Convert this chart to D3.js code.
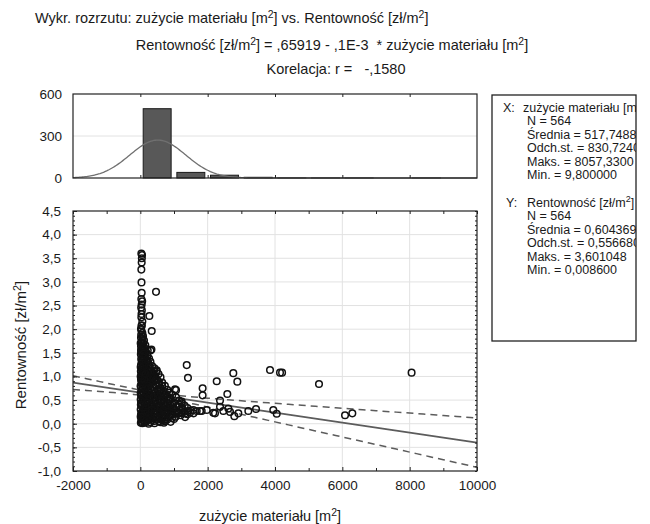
<!DOCTYPE html>
<html>
<head>
<meta charset="utf-8">
<script src="https://cdn.jsdelivr.net/npm/d3@7"></script>
<style>
body { margin: 0; background: #fff; }
svg text { font-family: "Liberation Sans", Arial, sans-serif; fill: #1a1a1a; white-space: pre; }
</style>
</head>
<body>
<div id="chart"></div>
<script>
var d3 = window.d3;

// histogram of zużycie materiału, bins of 1000 m2
var histBinStarts = [0, 1000, 2000, 3000, 4000, 5000, 6000, 7000, 8000];
var histCounts = [495, 40, 20, 5, 1, 1, 1, 0, 1];
var histTicks = [0, 300, 600];

var xTicks = [-2000, 0, 2000, 4000, 6000, 8000, 10000];
var xMinorTicks = [-1000, 1000, 3000, 5000, 7000, 9000];
var yTicks = [-1, -0.5, 0, 0.5, 1, 1.5, 2, 2.5, 3, 3.5, 4, 4.5];

// summary statistics (as printed in the box)
var statsN = 564;
var meanX = 517.7488, sdX = 830.724;
var meanY = 0.604369, sdY = 0.55668;
var corrR = -0.158;

var titleLines = [
	"Wykr. rozrzutu: zużycie materiału [m²] vs. Rentowność [zł/m²]",
	"Rentowność [zł/m²] = ,65919 - ,1E-3  * zużycie materiału [m²]",
	"Korelacja: r =   -,1580"
];
var statHeadX = "zużycie materiału [m²]";
var statLinesX = ["N = 564", "Średnia = 517,7488", "Odch.st. = 830,7240", "Maks. = 8057,3300", "Min. = 9,800000"];
var statHeadY = "Rentowność [zł/m²]";
var statLinesY = ["N = 564", "Średnia = 0,604369", "Odch.st. = 0,556680", "Maks. = 3,601048", "Min. = 0,008600"];

// points: [zużycie materiału, rentowność]
var points = [
	// tall column near zero
	[30,3.60],[50,3.57],[45,3.50],[40,3.41],[30,3.26],[35,2.99],[40,2.77],[30,2.64],[55,2.59],[40,2.52],
	[25,2.46],[45,2.40],[35,2.32],[30,2.25],[60,2.16],[40,2.08],[20,2.01],[466,2.79],[268,2.28],[338,1.96],
	[40,2.07],[30,1.98],[60,1.92],[25,1.88],[80,1.85],
	[20,1.82],[70,1.80],[110,1.76],[35,1.72],[90,1.70],[150,1.66],[20,1.64],[60,1.62],[120,1.60],[330,1.57],
	[300,1.55],[30,1.56],[80,1.53],[170,1.52],[45,1.50],
	[15,1.47],[100,1.46],[210,1.44],[60,1.42],[140,1.40],[260,1.38],[25,1.37],[90,1.35],[180,1.33],[300,1.31],
	[40,1.30],[120,1.29],
	[230,1.28],[70,1.26],[20,1.24],[160,1.23],[350,1.22],[280,1.20],[100,1.19],[420,1.17],[45,1.16],[200,1.15],
	[330,1.13],[140,1.12],[15,1.11],[260,1.10],[480,1.11],[80,1.08],[487,1.13],
	[390,1.07],[180,1.06],[30,1.04],[300,1.03],[540,1.05],[110,1.01],[450,1.00],[230,0.99],[60,0.97],[360,0.96],
	[600,0.98],[150,0.94],[20,0.93],[280,0.92],[500,0.93],[420,0.90],[90,0.90],
	[200,0.88],[650,0.87],[340,0.86],[40,0.85],[560,0.84],[130,0.83],[260,0.82],[470,0.81],[730,0.80],[15,0.79],
	[380,0.78],[190,0.77],[600,0.76],[80,0.75],[300,0.74],[520,0.73],[800,0.72],[140,0.71],[420,0.70],[1030,0.73],
	[680,0.70],
	[30,0.69],[240,0.68],[560,0.67],[860,0.66],[100,0.65],[370,0.64],[720,0.63],[180,0.62],[470,0.61],[950,0.61],
	[20,0.60],[300,0.59],[620,0.58],[800,0.57],[140,0.56],[420,0.55],[1060,0.56],[60,0.54],[250,0.53],[540,0.52],
	[900,0.52],[700,0.50],[350,0.50],[10,0.51],[170,0.50],
	[1150,0.49],[460,0.48],[80,0.47],[620,0.46],[280,0.45],[1000,0.45],[800,0.44],[20,0.44],[190,0.43],[1230,0.43],
	[400,0.42],[560,0.41],[120,0.40],[720,0.40],[900,0.39],[320,0.38],[1320,0.38],[40,0.37],[500,0.36],[1080,0.36],
	[220,0.35],[650,0.34],[830,0.34],[1400,0.33],[100,0.32],[380,0.32],[980,0.31],[560,0.30],[1180,0.30],[10,0.30],
	[270,0.29],[760,0.28],
	[1500,0.28],[150,0.27],[450,0.27],[900,0.26],[1300,0.26],[620,0.25],[50,0.24],[330,0.24],[1080,0.23],[1580,0.22],
	[200,0.22],[780,0.22],[500,0.21],[960,0.20],[1400,0.20],[20,0.19],[280,0.19],[650,0.18],[1200,0.18],[110,0.17],
	[400,0.16],[850,0.16],[560,0.15],[1050,0.15],[230,0.14],[60,0.13],[720,0.13],[350,0.12],[940,0.12],[1330,0.14],
	[160,0.11],[500,0.10],[30,0.10],
	[260,0.09],[640,0.08],[90,0.07],[420,0.06],[180,0.05],[734,0.05],[40,0.04],[300,0.03],[120,0.02],[60,0.01],[15,0.02],
	// second layer in the dense core
	[50,1.18],[130,1.16],[210,1.07],[70,1.02],[170,0.98],[250,0.95],[40,0.89],[110,0.86],[230,0.80],[60,0.78],
	[160,0.74],[90,0.66],[200,0.64],[30,0.62],[140,0.59],[260,0.57],[80,0.55],[200,0.45],[50,0.41],[150,0.36],
	[250,0.33],[80,0.26],[190,0.25],[30,0.22],[130,0.21],[240,0.18],[80,0.15],[200,0.08],[140,0.03],
	// third layer, filling the triangle
	[330,0.70],[450,0.66],[600,0.64],[780,0.62],[520,0.58],[380,0.56],[700,0.55],[850,0.48],[600,0.49],[430,0.46],
	[330,0.43],[700,0.43],[950,0.41],[480,0.40],[620,0.37],[760,0.35],[880,0.32],[420,0.35],[330,0.30],[680,0.29],
	[1050,0.27],[1250,0.32],[820,0.25],[580,0.22],[410,0.21],[1150,0.22],[730,0.19],[900,0.18],[480,0.14],[640,0.12],
	[1000,0.10],[350,0.08],[550,0.05],[800,0.09],[1100,0.25],[1420,0.27],[1250,0.23],[1480,0.24],[980,0.35],[1150,0.40],
	[850,0.55],[650,0.80],[550,0.88],[450,0.93],[380,1.00],[300,1.10],[400,1.12],[250,1.25],[200,1.35],[150,1.45],
	[220,1.55],[100,1.40],[50,1.35],[10,1.20],[10,1.00],[10,0.80],[10,0.65],[15,0.40],[10,0.15],[70,0.83],
	[120,0.93],[60,1.11],[110,1.22],[160,1.05],[20,1.55],[70,1.48],[10,1.70],[50,1.76],[100,1.62],
	[700,0.02],[900,0.04],[420,0.01],[250,0.00],[600,0.03],
	// scattered larger values
	[1378,1.24],[1415,0.97],[2269,0.90],[2762,1.07],[2881,0.89],[3852,1.135],[4149,1.08],[4210,1.08],[5307,0.84],
	[8057,1.08],[6080,0.18],[6297,0.22],[1850,0.75],[1850,0.60],[1060,0.71],[2584,0.63],[2367,0.49],[1229,0.47],
	[734,0.08],[1675,0.27],[1823,0.27],[1972,0.29],[2168,0.23],[2367,0.36],[2465,0.27],[2614,0.32],[2664,0.25],
	[2792,0.16],[2911,0.22],[3208,0.27],[3436,0.31],[3950,0.29],[4051,0.21],[2218,0.22],[1574,0.29],[1328,0.22],
	[1773,0.27]
];

var width = 650, height = 524;
var plotL = 73, plotR = 477;
var histTop = 94, histBot = 178;
var scatTop = 211, scatBot = 471;

var svg = d3.select("#chart").append("svg")
	.attr("width", width)
	.attr("height", height);

// writes text where "²" becomes a raised small 2
function richText(sel, str){
	var parts = str.split("²");
	parts.forEach(function(p, i){
		var t = sel.append("tspan").text(p);
		if(i > 0) t.attr("dy", 5);
		if(i < parts.length - 1){
			sel.append("tspan").attr("dy", -5).attr("font-size", "0.72em").text("2");
		}
	});
	return sel;
}

var fmtY = function(d){ return d.toFixed(1).replace(".", ","); };

// ---- titles ----
richText(svg.append("text").attr("x", 35).attr("y", 23).attr("font-size", 14.5), titleLines[0]);
richText(svg.append("text").attr("x", 332).attr("y", 50).attr("text-anchor", "middle").attr("font-size", 14.5), titleLines[1]);
svg.append("text").attr("x", 336).attr("y", 74).attr("text-anchor", "middle").attr("font-size", 14.5).text(titleLines[2]);

var x = d3.scaleLinear().domain([-2000, 10000]).range([plotL, plotR]);
var yH = d3.scaleLinear().domain([0, 600]).range([histBot, histTop]);
var yS = d3.scaleLinear().domain([-1, 4.5]).range([scatBot, scatTop]);

// ---- histogram ----
var hist = svg.append("g");
hist.append("line")
	.attr("x1", plotL).attr("x2", plotR)
	.attr("y1", yH(300)).attr("y2", yH(300))
	.attr("stroke", "#e2e2e2");

var binW = 1000;
hist.selectAll(".bar")
	.data(histBinStarts.map(function(s, i){ return {start: s, count: histCounts[i]}; })
		.filter(function(d){ return d.count > 0; }))
	.enter().append("rect")
	.attr("class", "bar")
	.attr("x", function(d){ return x(d.start + 85); })
	.attr("width", function(d){ return x(d.start + binW - 85) - x(d.start + 85); })
	.attr("y", function(d){ return yH(d.count); })
	.attr("height", function(d){ return yH(0) - yH(d.count); })
	.attr("fill", "#585858")
	.attr("stroke", "#1a1a1a")
	.attr("stroke-width", 1);

// fitted normal curve
var curveX = d3.range(-2000, 10001, 40);
var normal = d3.line()
	.x(function(v){ return x(v); })
	.y(function(v){
		var z = (v - meanX) / sdX;
		return yH(statsN * binW * Math.exp(-z * z / 2) / (sdX * Math.sqrt(2 * Math.PI)));
	});
hist.append("path")
	.attr("d", normal(curveX))
	.attr("fill", "none")
	.attr("stroke", "#707070")
	.attr("stroke-width", 1.3);

hist.append("g").attr("transform", "translate(0," + histBot + ")")
	.call(d3.axisBottom(x).tickValues(xTicks.slice(1, -1)).tickSize(-3).tickFormat(""));
hist.append("g").attr("transform", "translate(0," + histTop + ")")
	.call(d3.axisTop(x).tickValues(xTicks.slice(1, -1)).tickSize(-3).tickFormat(""));
hist.append("g").attr("transform", "translate(" + plotL + ",0)")
	.call(d3.axisLeft(yH).tickValues(histTicks).tickSize(0).tickPadding(11))
	.selectAll("text").attr("font-size", 13.5);
hist.selectAll(".domain").remove();
hist.selectAll(".tick line").attr("stroke", "#222");
hist.append("rect")
	.attr("x", plotL).attr("y", histTop)
	.attr("width", plotR - plotL).attr("height", histBot - histTop)
	.attr("fill", "none").attr("stroke", "#222").attr("stroke-width", 1.2);

// ---- scatter ----
var scat = svg.append("g");
svg.append("clipPath").attr("id", "scatClip").append("rect")
	.attr("x", plotL).attr("y", scatTop)
	.attr("width", plotR - plotL).attr("height", scatBot - scatTop);

// grid
scat.selectAll(".vgrid").data(xTicks.slice(1, -1)).enter().append("line")
	.attr("x1", x).attr("x2", x)
	.attr("y1", scatTop).attr("y2", scatBot)
	.attr("stroke", "#e2e2e2");
scat.selectAll(".hgrid").data(yTicks.slice(1, -1)).enter().append("line")
	.attr("y1", yS).attr("y2", yS)
	.attr("x1", plotL).attr("x2", plotR)
	.attr("stroke", "#e2e2e2");

// regression line and 95% bands
var slope = corrR * sdY / sdX;
var icpt = meanY - slope * meanX;
var sRes = sdY * Math.sqrt((1 - corrR * corrR) * (statsN - 1) / (statsN - 2));
var sxx = (statsN - 1) * sdX * sdX;
var tCrit = 1.964;
function fit(v, sign){
	return icpt + slope * v + sign * tCrit * sRes * Math.sqrt(1 / statsN + (v - meanX) * (v - meanX) / sxx);
}
var lineX = d3.range(-2000, 10001, 200);
var fitLine = function(sign){
	return d3.line().x(function(v){ return x(v); }).y(function(v){ return yS(fit(v, sign)); })(lineX);
};
var lines = scat.append("g").attr("clip-path", "url(#scatClip)");
lines.append("path").attr("d", fitLine(0))
	.attr("fill", "none").attr("stroke", "#5c5c5c").attr("stroke-width", 1.7);
[-1, 1].forEach(function(sign){
	lines.append("path").attr("d", fitLine(sign))
		.attr("fill", "none").attr("stroke", "#5c5c5c").attr("stroke-width", 1.5)
		.attr("stroke-dasharray", "7,5");
});

scat.append("g").attr("clip-path", "url(#scatClip)")
	.selectAll("circle").data(points).enter().append("circle")
	.attr("cx", function(d){ return x(d[0]); })
	.attr("cy", function(d){ return yS(d[1]); })
	.attr("r", 3.3)
	.attr("fill", "none")
	.attr("stroke", "#111")
	.attr("stroke-width", 1.5);

// axes: inward ticks
var yMinor = d3.range(-1, 4.51, 0.1);
scat.append("g").attr("transform", "translate(0," + scatBot + ")")
	.call(d3.axisBottom(x).tickValues(xTicks).tickSize(-4).tickPadding(9).tickFormat(function(d){ return String(d); }))
	.selectAll("text").attr("font-size", 13.5);
scat.append("g").attr("transform", "translate(0," + scatBot + ")")
	.call(d3.axisBottom(x).tickValues(xMinorTicks).tickSize(-3).tickFormat(""));
scat.append("g").attr("transform", "translate(0," + scatTop + ")")
	.call(d3.axisTop(x).tickValues(xTicks.concat(xMinorTicks)).tickSize(-3).tickFormat(""));
scat.append("g").attr("transform", "translate(" + plotL + ",0)")
	.call(d3.axisLeft(yS).tickValues(yTicks).tickSize(-4).tickPadding(12).tickFormat(fmtY))
	.selectAll("text").attr("font-size", 13.5);
scat.append("g").attr("transform", "translate(" + plotL + ",0)")
	.call(d3.axisLeft(yS).tickValues(yMinor).tickSize(-2).tickFormat(""));
scat.append("g").attr("transform", "translate(" + plotR + ",0)")
	.call(d3.axisRight(yS).tickValues(yMinor).tickSize(-2).tickFormat(""));
scat.selectAll(".domain").remove();
scat.selectAll(".tick line").attr("stroke", "#222");
scat.append("rect")
	.attr("x", plotL).attr("y", scatTop)
	.attr("width", plotR - plotL).attr("height", scatBot - scatTop)
	.attr("fill", "none").attr("stroke", "#222").attr("stroke-width", 1.2);

// axis titles
richText(svg.append("text").attr("x", 270).attr("y", 521)
	.attr("text-anchor", "middle").attr("font-size", 14.5), "zużycie materiału [m²]");
richText(svg.append("text")
	.attr("transform", "translate(26,345) rotate(-90)")
	.attr("text-anchor", "middle").attr("font-size", 15), "Rentowność [zł/m²]");

// ---- statistics box ----
var boxX = 492, boxY = 95, boxW = 144, boxH = 246;
svg.append("clipPath").attr("id", "boxClip").append("rect")
	.attr("x", boxX).attr("y", boxY).attr("width", boxW).attr("height", boxH);
svg.append("rect")
	.attr("x", boxX).attr("y", boxY).attr("width", boxW).attr("height", boxH)
	.attr("fill", "#fff").attr("stroke", "#222").attr("stroke-width", 1.3);
var box = svg.append("g").attr("clip-path", "url(#boxClip)").append("g").attr("font-size", 12.5);
var lineH = 13.4;
function boxText(px, py){
	return box.append("text").attr("x", px).attr("y", py);
}
boxText(503, 112).text("X:");
richText(boxText(523, 112), statHeadX);
statLinesX.forEach(function(s, i){
	boxText(527, 112 + (i + 1) * lineH).text(s);
});
boxText(506, 207).text("Y:");
richText(boxText(527, 207), statHeadY);
statLinesY.forEach(function(s, i){
	boxText(527, 207 + (i + 1) * lineH).text(s);
});
</script>
</body>
</html>
